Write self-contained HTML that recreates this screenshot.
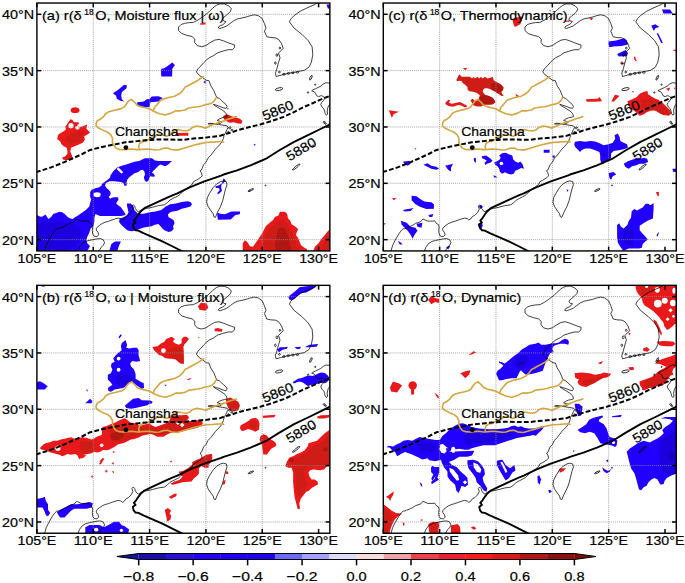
<!DOCTYPE html><html><head><meta charset="utf-8"><style>
html,body{margin:0;padding:0;background:#fff;width:685px;height:583px;overflow:hidden}
svg{display:block}
text{font-family:"Liberation Sans",sans-serif;fill:#000;stroke:#000;stroke-width:0.2px}
.gl{stroke:#8e8e8e;stroke-width:0.8;stroke-dasharray:1 1.05}
.fr{fill:none;stroke:#000;stroke-width:1.4}
.tk{stroke:#000;stroke-width:1.5}
.tl{font-size:13.4px}
.sp{font-size:9.0px}
.tt{font-size:13.4px}
.cl{fill:none;stroke:#000;stroke-width:0.75;stroke-linejoin:round}
.gc{fill:none;stroke:#d2a641;stroke-width:1.6;stroke-linejoin:round;stroke-linecap:round}
.dl{fill:none;stroke:#000;stroke-width:2.0;stroke-dasharray:4.8 2.2}
.sl{fill:none;stroke:#000;stroke-width:1.9;stroke-linejoin:round}
</style></head><body>
<svg width="685" height="583" viewBox="0 0 685 583">
<defs><pattern id="latb" patternUnits="userSpaceOnUse" width="7" height="7" patternTransform="rotate(-45)"><rect width="7" height="7" fill="#2200ff"/><rect x="0" y="0" width="3.2" height="7" fill="#fff"/></pattern><pattern id="latr" patternUnits="userSpaceOnUse" width="8" height="8" patternTransform="rotate(45)"><rect width="8" height="8" fill="#dd1a16"/><circle cx="4" cy="4" r="2.1" fill="#fff"/></pattern><g id="base"><path d="M7.6,248.5 L9.3,242.3 L12.0,237.0 L15.5,230.9 L18.1,227.4 L19.9,225.7 L21.6,225.7 L23.4,224.8 L26.0,223.9 L27.7,223.0 L29.5,222.2 L32.1,220.4 L34.7,219.5 L37.4,218.6 L39.6,216.0 L41.7,216.9 L44.4,218.1 L47.0,218.1 L49.6,218.1 L51.4,217.8 L52.3,219.2 L53.1,220.4 L54.9,221.3 L55.8,223.9 L55.4,227.4 L55.8,230.9 L57.2,233.2 L60.1,233.5 L61.9,231.8 L61.0,229.2 L59.6,227.4 L59.3,225.7 L60.7,223.9 L62.8,222.2 L65.4,220.4 L68.9,219.0 L71.5,218.3 L75.0,217.0 L78.5,215.8 L81.2,215.1 L83.8,215.5 L85.5,217.0 L87.3,216.0 L89.1,213.5 L91.5,212.3 L94.2,209.6 L96.0,206.2 L95.0,203.2 L96.3,201.7 L97.8,203.2 L98.4,205.5 L99.8,207.6 L101.6,208.8 L103.2,207.6 L105.3,206.4 L109.8,205.4 L115.7,204.2 L121.5,202.6 L127.4,201.8 L130.3,199.8 L133.2,196.9 L136.1,195.4 L139.0,194.0 L141.9,192.4 L143.4,191.1 L147.8,186.7 L152.2,183.8 L155.1,181.6 L156.6,178.6 L159.5,177.2 L163.9,174.3 L165.3,172.8 L164.6,169.9 L163.2,167.7 L164.6,166.9 L166.8,161.5 L169.0,159.3 L171.2,155.0 L174.1,152.0 L176.3,149.1 L178.5,146.2 L180.6,144.0 L182.8,141.8 L185.0,138.9 L186.5,135.3 L187.2,132.3 L188.7,129.4 L190.1,126.5 L191.3,124.3 L190.1,122.8 L185.8,122.1 L181.4,121.4 L177.0,120.7 L173.3,120.2 L171.2,120.8 L174.2,121.0 L178.6,120.9 L183.0,120.5 L185.2,119.0 L180.3,117.4 L182.5,115.9 L185.2,114.8 L187.8,114.2 L190.2,113.6 L189.8,111.6 L188.2,109.2 L186.0,107.5 L183.4,105.9 L180.8,104.3 L178.2,102.8 L176.4,101.3 L179.5,102.2 L183.0,103.4 L186.5,104.8 L189.1,105.4 L190.2,103.7 L189.1,101.5 L186.9,99.6 L184.7,97.6 L182.5,95.5 L179.9,94.5 L179.0,92.6 L176.8,87.3 L173.9,82.7 L172.0,77.6 L169.7,77.5 L165.3,74.3 L161.7,71.7 L159.5,68.8 L161.0,65.9 L163.9,63.0 L166.8,59.7 L169.7,56.8 L172.6,54.6 L177.0,52.4 L180.6,49.8 L185.8,48.1 L191.6,46.6 L195.5,46.7 L197.5,44.6 L197.8,42.0 L194.7,41.0 L190.9,39.6 L186.5,37.8 L182.1,36.4 L177.7,37.1 L173.3,39.6 L169.0,42.5 L164.6,43.7 L160.2,42.5 L157.7,39.3 L158.0,36.1 L155.1,33.5 L150.0,32.3 L144.9,30.5 L141.7,27.6 L141.7,24.0 L144.1,21.5 L147.8,20.3 L152.2,19.6 L156.6,19.3 L160.9,17.1 L165.3,14.2 L169.7,10.8 L172.5,8.4 L176.0,4.9 L179.5,2.2 L183.0,0.9 L187.4,0.9 L191.7,2.7 L194.4,5.7 L193.5,8.4 L190.9,11.0 L188.2,13.2 L186.5,14.5 L185.6,16.2 L186.9,18.0 L189.1,18.4 L187.8,20.2 L185.6,21.8 L182.5,23.1 L181.4,24.8 L183.0,25.5 L186.5,24.3 L190.0,22.8 L193.5,20.2 L197.0,17.6 L200.5,15.9 L204.9,15.0 L209.3,14.0 L213.5,12.6 L217.4,11.8 L221.3,12.6 L225.2,15.4 L227.5,20.4 L229.1,25.1 L227.5,28.2 L229.9,33.7 L233.8,34.5 L238.5,34.8 L241.6,36.3 L244.7,40.7 L246.3,45.4 L241.6,50.1 L243.1,54.8 L241.6,59.5 L240.0,65.7 L238.5,70.4 L239.2,73.5 L244.7,72.0 L250.9,70.4 L257.2,69.2 L263.4,68.1 L267.3,67.3 L272.0,64.2 L274.4,59.5 L275.9,51.7 L275.2,43.8 L271.3,37.6 L265.0,31.3 L257.2,25.1 L252.5,18.8 L254.1,15.7 L257.2,12.6 L263.4,8.2 L269.7,5.1 L277.5,1.7 L280.6,-0.5" class="cl"/><path d="M40.9,248.5 L42.6,244.1 L45.2,240.6 L48.8,238.4 L52.3,237.4 L55.8,236.7 L60.1,235.8 L63.6,235.6 L66.3,236.7 L67.7,239.7 L66.3,242.3 L64.5,244.1 L62.8,246.7 L61.9,248.5" class="cl"/><path d="M186.5,177.9 L189.4,178.6 L190.1,181.6 L188.7,185.9 L187.2,191.8 L185.8,197.6 L183.6,203.5 L180.6,209.3 L178.5,214.4 L177.0,213.7 L176.3,210.8 L174.1,207.8 L171.2,203.5 L169.7,199.1 L170.4,194.7 L172.6,190.3 L176.3,184.5 L179.9,180.8 L183.6,178.6 L186.5,177.9" class="cl"/><path d="M293.5,80.1 L289.0,79.7 L286.4,81.0 L283.9,83.1 L281.3,84.4 L278.7,85.7 L275.7,87.0 L274.8,87.8 L277.4,88.7 L278.7,90.4 L279.6,92.6 L281.7,93.6 L284.3,92.6 L286.4,93.4 L287.7,95.1 L286.9,97.3 L284.7,99.4 L283.9,101.6 L285.1,103.9 L286.9,105.8 L287.7,108.0 L288.3,110.6 L289.4,112.1 L290.7,111.2 L290.3,108.0 L290.7,105.4 L291.5,103.0 L293.5,100.5" class="cl"/><ellipse cx="242.2" cy="86.1" rx="3.8" ry="1.3" transform="rotate(-12 242.2 86.1)" class="cl"/><ellipse cx="274.0" cy="74.7" rx="0.8" ry="2.6" transform="rotate(25 274.0 74.7)" class="cl"/><ellipse cx="259.3" cy="164.0" rx="4.6" ry="0.8" transform="rotate(-40 259.3 164.0)" class="cl"/><ellipse cx="214.0" cy="187.0" rx="3.0" ry="0.7" transform="rotate(-25 214.0 187.0)" class="cl"/><ellipse cx="276.0" cy="143.0" rx="1.2" ry="0.8" transform="rotate(-30 276.0 143.0)" class="cl"/><ellipse cx="287.3" cy="119.1" rx="1.0" ry="0.8" transform="rotate(0 287.3 119.1)" class="cl"/><ellipse cx="228.7" cy="182.4" rx="0.5" ry="0.5" transform="rotate(0 228.7 182.4)" class="cl"/><ellipse cx="247.0" cy="71.2" rx="1.4" ry="0.9" transform="rotate(0 247.0 71.2)" class="cl"/><ellipse cx="251.5" cy="70.4" rx="1.4" ry="0.9" transform="rotate(0 251.5 70.4)" class="cl"/><ellipse cx="256.0" cy="69.8" rx="1.3" ry="0.9" transform="rotate(0 256.0 69.8)" class="cl"/><ellipse cx="260.5" cy="69.4" rx="1.2" ry="0.8" transform="rotate(0 260.5 69.4)" class="cl"/><ellipse cx="242.5" cy="69.0" rx="1.0" ry="0.8" transform="rotate(0 242.5 69.0)" class="cl"/><ellipse cx="240.0" cy="52.0" rx="0.9" ry="1.4" transform="rotate(0 240.0 52.0)" class="cl"/><ellipse cx="238.5" cy="60.0" rx="0.8" ry="1.2" transform="rotate(0 238.5 60.0)" class="cl"/><ellipse cx="243.0" cy="45.0" rx="0.8" ry="1.0" transform="rotate(0 243.0 45.0)" class="cl"/><ellipse cx="193.0" cy="124.8" rx="1.2" ry="0.8" transform="rotate(-20 193.0 124.8)" class="cl"/><ellipse cx="195.0" cy="127.0" rx="1.0" ry="0.7" transform="rotate(-20 195.0 127.0)" class="cl"/><ellipse cx="191.5" cy="129.0" rx="0.8" ry="0.6" transform="rotate(0 191.5 129.0)" class="cl"/><ellipse cx="278.3" cy="81.6" rx="0.6" ry="0.6" transform="rotate(0 278.3 81.6)" class="cl"/><ellipse cx="271.1" cy="89.4" rx="0.8" ry="0.5" transform="rotate(-30 271.1 89.4)" class="cl"/><ellipse cx="288.5" cy="120.5" rx="1.0" ry="0.6" transform="rotate(20 288.5 120.5)" class="cl"/><path d="M94.8,96.6 L91.9,97.8 L89.6,100.7 L87.8,103.6 L84.9,105.4 L80.2,106.6 L75.6,107.7 L71.5,108.9 L68.6,110.7 L66.8,113.6 L63.9,115.9 L60.4,117.7 L59.2,120.6 L59.2,122.9 L62.1,125.3 L66.8,127.6 L70.9,129.3 L73.8,131.7 L75.6,135.2 L75.6,139.3 L76.7,142.2 L79.1,145.1 L82.0,146.3 L86.1,146.6 L90.8,146.3 L95.4,145.9 L100.1,146.6 L104.8,146.3 L109.4,145.9 L114.1,146.3 L118.8,146.9 L122.5,146.7 L126.5,145.3 L130.7,144.9 L134.2,146.5 L140.1,147.1 L145.9,145.5 L151.7,143.8 L157.6,142.0 L163.4,140.6 L169.3,139.4 L175.1,139.1 L180.9,138.7 L185.6,138.4 L186.8,139.1" class="gc"/><path d="M102.4,146.3 L101.8,143.4 L102.7,140.4 L105.4,138.7 L109.2,138.1 L112.0,136.4 L114.3,134.2 L117.2,133.6 L122.5,131.0 L126.0,131.9 L129.5,133.2 L133.0,131.9 L136.5,128.4 L140.9,126.6 L145.2,127.5 L149.6,128.0 L152.5,127.0 L155.5,124.4 L159.8,122.9 L164.2,123.7 L168.6,125.1 L173.0,122.9 L177.4,121.1 L181.7,119.6 L187.6,117.8 L192.0,116.0 L199.5,113.6" class="gc"/><path d="M94.8,96.6 L97.8,99.2 L100.1,101.9 L103.6,103.6 L108.3,104.8 L113.0,106.0 L116.7,108.2 L122.5,110.7 L128.4,111.9 L134.2,110.1 L138.9,107.8 L143.6,107.8 L148.2,107.0 L151.7,104.9 L156.4,104.3 L161.1,103.7 L164.6,102.9 L168.1,101.7 L171.6,101.1 L175.1,99.9 L177.4,97.8 L179.2,94.9" class="gc"/><path d="M116.4,107.6 L117.5,104.5 L120.2,101.4 L123.7,97.3 L128.4,95.5 L133.0,94.3 L137.7,93.2 L142.4,90.8 L145.9,87.6 L148.2,84.1 L151.2,82.7 L154.1,80.9 L157.6,79.2 L161.7,76.8 L164.6,74.7 L166.7,73.3" class="gc"/><path d="M-1.0,168.6 L0.2,168.8 L14.2,164.4 L27.4,159.1 L36.1,155.2 L44.9,151.2 L53.4,146.9 L65.1,143.9 L76.7,141.6 L88.4,139.3 L100.1,138.1 L111.8,136.9 L121.7,136.4 L146.7,136.8 L154.0,135.7 L161.3,135.2 L168.6,134.6 L175.9,133.7 L183.2,132.8 L188.4,130.9 L194.1,129.6 L200.1,127.3 L211.7,124.3 L223.4,121.4 L235.1,117.9 L246.8,113.8 L256.0,109.6 L266.1,104.4 L277.1,99.6 L285.4,95.7 L294.0,92.6" class="dl"/><path d="M294.0,120.6 L291.6,122.0 L284.1,125.7 L270.6,132.4 L257.2,138.8 L242.1,147.5 L228.7,155.9 L213.6,162.3 L200.1,167.3 L186.7,171.5 L184.3,172.6 L166.8,178.6 L152.2,184.5 L140.5,190.3 L135.4,192.4 L125.4,196.8 L115.7,201.4 L107.5,205.2 L103.8,208.4 L101.9,211.0 L99.2,215.0 L97.0,217.6 L98.6,219.6 L96.0,221.5 L96.6,224.8 L98.6,227.2 L101.5,227.6 L106.5,230.1 L115.7,234.0 L124.9,238.0 L135.4,243.2 L145.9,248.6" class="sl"/><circle cx="89.0" cy="144.5" r="2.4" fill="#000"/><text x="78.0" y="132.8" class="tl" textLength="63.51" lengthAdjust="spacingAndGlyphs">Changsha</text><text class="tl" text-anchor="middle" transform="translate(240.9,107.4) rotate(-22)" y="4.5" textLength="32.45" lengthAdjust="spacingAndGlyphs">5860</text><text class="tl" text-anchor="middle" transform="translate(264.3,146.3) rotate(-31)" y="4.5" textLength="32.45" lengthAdjust="spacingAndGlyphs">5880</text></g></defs>
<g transform="translate(36.90,3.03)">
<clipPath id="cpa"><rect x="0" y="0" width="292.97" height="247.90"/></clipPath>
<g clip-path="url(#cpa)">
<path d="M33.4,116.3 L35.6,117.0 L37.1,119.2 L41.4,119.2 L42.2,120.7 L40.0,122.1 L42.9,124.3 L47.3,122.8 L50.2,121.4 L49.5,125.8 L53.1,129.4 L50.2,131.6 L47.3,133.1 L48.0,136.7 L45.8,139.6 L41.4,141.8 L37.8,143.3 L34.1,144.7 L33.4,148.4 L34.9,152.0 L35.6,155.0 L32.7,156.4 L29.8,157.2 L26.1,156.4 L25.4,154.2 L28.3,153.5 L30.5,150.6 L30.5,147.7 L29.8,144.7 L26.8,143.3 L24.6,141.1 L23.2,138.2 L20.3,136.0 L21.0,132.3 L23.2,130.1 L26.1,128.7 L29.0,126.5 L28.3,123.6 L30.5,120.7 L32.0,118.5Z" fill="#e8191a"/><path d="M29.8,133.1 L35.6,130.1 L41.4,127.2 L45.8,128.7 L44.4,134.5 L41.4,138.9 L35.6,140.4 L30.5,138.9 L29.0,136.0Z" fill="#d01c16"/><path d="M26.5,156.0 L29.5,152.5 L33.5,152.0 L35.3,154.8 L30.0,157.0Z" fill="#d01c16"/><ellipse cx="34.1" cy="122.6" rx="2.6" ry="2.6" fill="#ffffff"/><ellipse cx="40.5" cy="124.8" rx="2.2" ry="1.8" fill="#ffffff"/><ellipse cx="38.2" cy="107.1" rx="4.4" ry="2.9" fill="#e8191a"/><path d="M124.4,65.7 L127.3,65.2 L131.0,62.7 L135.4,59.4 L138.0,62.0 L135.4,65.7 L135.4,69.3 L135.1,73.4 L124.4,73.4 L124.1,69.3Z" fill="#2200ff"/><path d="M76.2,90.0 L79.9,87.6 L82.8,85.4 L87.2,81.7 L90.1,82.4 L89.4,85.4 L85.0,89.0 L84.3,92.7 L85.0,96.3 L87.2,98.5 L83.5,97.8 L79.9,95.6 L79.2,92.7 L77.0,91.2Z" fill="#2200ff"/><path d="M100.3,99.2 L106.9,98.5 L109.8,96.3 L112.7,95.9 L114.9,93.4 L121.5,93.1 L125.9,94.9 L123.0,97.0 L122.2,98.5 L113.5,99.2 L112.7,104.3 L106.9,104.0 L101.8,103.6 L100.3,101.4Z" fill="#2200ff"/><path d="M-1.0,212.2 L0.6,212.2 L3.5,213.7 L5.7,213.4 L8.6,211.5 L10.0,213.7 L11.5,215.9 L13.7,214.4 L16.6,210.8 L19.5,210.0 L22.5,208.6 L25.4,209.3 L28.3,211.5 L30.5,213.7 L32.7,215.1 L35.6,215.9 L37.8,214.4 L41.4,212.2 L45.8,209.3 L49.5,206.4 L52.4,203.5 L53.3,199.4 L54.3,196.6 L53.3,193.8 L53.3,189.0 L54.8,186.7 L58.5,185.3 L62.3,184.3 L64.7,182.4 L65.1,180.6 L68.0,178.7 L70.8,176.8 L73.2,174.4 L73.6,172.1 L76.6,167.9 L80.1,164.4 L84.8,162.7 L89.5,161.5 L93.0,160.3 L97.6,158.6 L102.3,158.0 L105.8,156.2 L108.1,155.1 L115.1,155.1 L118.1,157.4 L122.1,158.0 L135.0,158.0 L132.7,160.3 L130.3,162.1 L128.0,163.2 L125.7,162.1 L123.3,161.5 L121.0,163.2 L118.6,165.6 L116.3,167.9 L115.1,169.7 L116.9,170.8 L118.1,173.2 L116.3,173.8 L113.4,173.2 L112.2,175.5 L111.6,177.8 L109.3,179.0 L107.5,176.7 L107.0,174.3 L108.1,171.4 L107.5,168.5 L105.8,166.7 L103.5,167.3 L101.1,169.1 L97.6,170.3 L95.3,172.0 L92.4,174.3 L90.6,176.1 L89.7,179.0 L89.7,182.4 L87.8,182.9 L86.8,180.6 L85.0,179.1 L82.1,178.7 L77.4,178.2 L72.7,178.2 L69.4,179.6 L68.0,182.4 L69.9,185.3 L72.2,187.2 L73.6,189.0 L73.6,191.9 L71.7,193.8 L73.2,195.6 L75.0,194.7 L76.9,194.2 L81.2,194.2 L81.6,196.6 L80.2,198.5 L79.3,200.4 L81.2,202.3 L84.0,204.1 L85.9,207.0 L87.8,209.8 L88.7,212.0 L84.0,213.0 L72.0,213.0 L63.0,213.0 L58.5,211.0 L57.5,215.0 L57.5,218.0 L56.8,222.4 L53.8,225.4 L52.4,229.7 L50.2,234.1 L49.5,237.0 L50.2,240.0 L53.1,242.9 L51.7,245.8 L49.5,249.0 L-1.0,249.0Z" fill="#2200ff"/><path d="M90.1,200.4 L93.8,200.4 L96.7,203.4 L97.4,207.0 L101.1,210.7 L106.9,210.7 L112.7,209.2 L118.6,208.5 L124.4,207.0 L128.8,203.4 L133.2,201.2 L139.0,200.4 L144.9,199.0 L150.7,198.2 L153.6,199.0 L155.1,201.2 L153.6,203.4 L149.2,204.8 L144.9,205.6 L140.5,207.7 L136.1,208.5 L133.2,209.2 L131.0,211.4 L131.7,214.3 L134.6,215.8 L136.8,217.2 L137.6,220.1 L136.1,223.1 L136.8,226.0 L134.6,228.2 L131.7,228.9 L128.1,227.4 L125.9,226.0 L123.7,223.1 L121.5,220.9 L117.8,221.6 L114.9,223.1 L111.3,223.8 L106.9,224.5 L102.5,226.0 L98.9,227.4 L94.5,228.2 L90.8,227.4 L87.2,224.5 L84.3,221.6 L82.1,218.7 L82.8,215.8 L86.5,214.3 L90.1,212.1 L91.6,209.2 L90.8,205.6 L90.1,202.6Z" fill="#2200ff"/><path d="M72.0,249.0 L74.5,241.0 L78.0,238.5 L84.0,238.5 L82.0,243.0 L80.0,249.0Z" fill="#2200ff"/><path d="M-1.0,222.0 L10.0,218.0 L25.0,219.0 L38.0,222.0 L45.0,228.0 L42.0,238.0 L35.0,245.0 L20.0,249.0 L-1.0,249.0Z" fill="#1c00dd"/><ellipse cx="60.2" cy="191.7" rx="3.6" ry="2.4" fill="#ffffff"/><rect x="79.5" y="166.3" width="7.0" height="2.4" fill="#ffffff" transform="rotate(45 83.0 167.5)"/><path d="M205.8,249.0 L205.8,240.1 L208.0,237.2 L210.2,238.7 L213.1,243.1 L216.0,243.8 L219.6,238.7 L222.6,234.3 L225.5,229.9 L227.7,225.5 L229.1,222.6 L232.1,220.4 L236.4,216.8 L237.9,213.9 L241.5,212.4 L243.0,208.8 L248.1,208.8 L250.3,211.0 L251.0,215.3 L253.2,217.5 L254.7,221.2 L258.3,223.4 L261.3,226.3 L259.8,229.2 L259.1,232.1 L261.3,235.0 L262.7,238.7 L264.2,242.3 L267.1,244.5 L270.0,246.0 L270.7,249.0Z" fill="#e8191a"/><path d="M275.9,249.0 L278.0,243.8 L281.7,240.1 L284.6,235.8 L288.3,231.4 L291.2,227.7 L294.1,226.3 L294.1,249.0Z" fill="#e8191a"/><path d="M229.1,229.9 L233.5,224.1 L239.4,219.7 L245.2,216.8 L249.6,219.7 L252.5,225.5 L255.4,229.9 L258.3,235.8 L259.8,241.6 L262.7,249.0 L227.7,249.0 L226.2,242.1Z" fill="#d01c16"/><path d="M284.0,249.0 L286.0,240.0 L290.0,234.0 L294.0,231.0 L294.0,249.0Z" fill="#d01c16"/><path d="M240.8,227.0 L243.7,224.1 L247.4,224.8 L249.6,228.5 L251.8,234.3 L252.5,240.1 L255.4,249.0 L239.4,249.0 L237.9,242.1 L239.4,234.8Z" fill="#b01712"/><path d="M178.6,183.2 L182.2,182.1 L185.1,180.3 L186.2,176.8 L186.8,175.1 L188.9,177.8 L186.8,179.7 L184.5,181.7 L184.3,184.4 L185.1,187.6 L182.7,190.3 L180.7,191.2 L180.4,190.0 L182.4,187.6 L182.7,185.6 L181.0,185.0 L178.9,185.0Z" fill="#2200ff"/><path d="M180.4,209.5 L183.3,210.7 L188.0,211.3 L192.7,209.3 L194.4,208.4 L203.2,208.4 L202.9,211.3 L198.5,211.9 L196.2,214.2 L193.8,216.5 L181.0,216.8 L180.4,213.0Z" fill="#2200ff"/><path d="M210.8,188.4 L213.5,187.0 L213.3,188.8Z" fill="#2200ff"/><path d="M216.5,141.8 L218.8,140.6 L218.0,142.6Z" fill="#2200ff"/><path d="M163.1,20.5 L168.7,19.3 L168.5,21.5 L163.5,21.7Z" fill="#e8191a"/><path d="M166.5,79.0 L168.7,77.3 L168.7,80.6Z" fill="#2200ff"/><path d="M186.2,113.0 L189.5,111.1 L192.7,112.2 L195.9,113.8 L199.9,114.6 L203.1,115.8 L205.5,118.0 L204.5,120.8 L201.0,120.5 L197.0,119.3 L193.0,119.8 L189.5,118.2 L187.0,116.2Z" fill="#e8191a"/><path d="M188.0,112.5 L192.0,113.0 L196.0,115.0 L195.0,118.5 L190.0,117.5Z" fill="#d01c16"/><path d="M189.8,105.0 L192.2,105.6 L191.0,106.8Z" fill="#e8191a"/><path d="M289.6,1.4 L294.0,1.4 L294.0,5.9 L291.0,5.5Z" fill="#2200ff"/><path d="M139.7,130.0 L151.4,129.6 L151.4,132.6 L139.7,132.8Z" fill="#e8191a"/>
<line x1="56.34" y1="0" x2="56.34" y2="247.90" class="gl"/>
<line x1="112.68" y1="0" x2="112.68" y2="247.90" class="gl"/>
<line x1="169.02" y1="0" x2="169.02" y2="247.90" class="gl"/>
<line x1="225.36" y1="0" x2="225.36" y2="247.90" class="gl"/>
<line x1="0" y1="236.63" x2="292.97" y2="236.63" class="gl"/>
<line x1="0" y1="180.29" x2="292.97" y2="180.29" class="gl"/>
<line x1="0" y1="123.95" x2="292.97" y2="123.95" class="gl"/>
<line x1="0" y1="67.61" x2="292.97" y2="67.61" class="gl"/>
<line x1="0" y1="11.27" x2="292.97" y2="11.27" class="gl"/>
<use href="#base"/>
</g>
<rect x="0" y="0" width="292.97" height="247.90" class="fr"/>
<line x1="0.00" y1="247.90" x2="0.00" y2="243.60" class="tk"/>
<line x1="0.00" y1="0" x2="0.00" y2="4.3" class="tk"/>
<line x1="56.34" y1="247.90" x2="56.34" y2="243.60" class="tk"/>
<line x1="56.34" y1="0" x2="56.34" y2="4.3" class="tk"/>
<line x1="112.68" y1="247.90" x2="112.68" y2="243.60" class="tk"/>
<line x1="112.68" y1="0" x2="112.68" y2="4.3" class="tk"/>
<line x1="169.02" y1="247.90" x2="169.02" y2="243.60" class="tk"/>
<line x1="169.02" y1="0" x2="169.02" y2="4.3" class="tk"/>
<line x1="225.36" y1="247.90" x2="225.36" y2="243.60" class="tk"/>
<line x1="225.36" y1="0" x2="225.36" y2="4.3" class="tk"/>
<line x1="281.70" y1="247.90" x2="281.70" y2="243.60" class="tk"/>
<line x1="281.70" y1="0" x2="281.70" y2="4.3" class="tk"/>
<line x1="0" y1="236.63" x2="4.3" y2="236.63" class="tk"/>
<line x1="292.97" y1="236.63" x2="288.67" y2="236.63" class="tk"/>
<line x1="0" y1="180.29" x2="4.3" y2="180.29" class="tk"/>
<line x1="292.97" y1="180.29" x2="288.67" y2="180.29" class="tk"/>
<line x1="0" y1="123.95" x2="4.3" y2="123.95" class="tk"/>
<line x1="292.97" y1="123.95" x2="288.67" y2="123.95" class="tk"/>
<line x1="0" y1="67.61" x2="4.3" y2="67.61" class="tk"/>
<line x1="292.97" y1="67.61" x2="288.67" y2="67.61" class="tk"/>
<line x1="0" y1="11.27" x2="4.3" y2="11.27" class="tk"/>
<line x1="292.97" y1="11.27" x2="288.67" y2="11.27" class="tk"/>
<text x="0.00" y="259.80" class="tl" text-anchor="middle" textLength="38.77" lengthAdjust="spacingAndGlyphs">105°E</text>
<text x="56.34" y="259.80" class="tl" text-anchor="middle" textLength="38.77" lengthAdjust="spacingAndGlyphs">110°E</text>
<text x="112.68" y="259.80" class="tl" text-anchor="middle" textLength="38.77" lengthAdjust="spacingAndGlyphs">115°E</text>
<text x="169.02" y="259.80" class="tl" text-anchor="middle" textLength="38.77" lengthAdjust="spacingAndGlyphs">120°E</text>
<text x="225.36" y="259.80" class="tl" text-anchor="middle" textLength="38.77" lengthAdjust="spacingAndGlyphs">125°E</text>
<text x="281.70" y="259.80" class="tl" text-anchor="middle" textLength="38.77" lengthAdjust="spacingAndGlyphs">130°E</text>
<text x="-2.7" y="241.63" class="tl" text-anchor="end" textLength="32.14" lengthAdjust="spacingAndGlyphs">20°N</text>
<text x="-2.7" y="185.29" class="tl" text-anchor="end" textLength="32.14" lengthAdjust="spacingAndGlyphs">25°N</text>
<text x="-2.7" y="128.95" class="tl" text-anchor="end" textLength="32.14" lengthAdjust="spacingAndGlyphs">30°N</text>
<text x="-2.7" y="72.61" class="tl" text-anchor="end" textLength="32.14" lengthAdjust="spacingAndGlyphs">35°N</text>
<text x="-2.7" y="16.27" class="tl" text-anchor="end" textLength="32.14" lengthAdjust="spacingAndGlyphs">40°N</text>
<text x="5.0" y="16.6" class="tt" textLength="39.83" lengthAdjust="spacingAndGlyphs">(a) r(δ</text>
<text x="47.43" y="11.7" class="sp" textLength="9.4" lengthAdjust="spacingAndGlyphs">18</text>
<text x="58.33" y="16.6" class="tt" textLength="129.06" lengthAdjust="spacingAndGlyphs">O, Moisture flux | ω)</text>
</g>
<g transform="translate(36.90,285.33)">
<clipPath id="cpb"><rect x="0" y="0" width="292.97" height="247.90"/></clipPath>
<g clip-path="url(#cpb)">
<path d="M2.8,162.8 L6.4,159.2 L9.3,157.7 L13.0,157.0 L16.6,155.5 L20.3,155.5 L23.9,154.1 L27.6,153.4 L30.5,152.6 L34.1,151.9 L37.8,153.4 L41.4,152.6 L45.8,151.9 L50.2,152.6 L54.6,154.1 L57.5,152.9 L60.4,151.2 L64.8,149.7 L65.5,141.7 L69.2,141.0 L73.6,138.8 L77.9,137.3 L82.3,135.1 L85.2,133.6 L88.2,132.9 L91.1,135.1 L94.0,137.3 L99.1,138.0 L103.1,140.6 L107.2,139.1 L112.3,138.1 L115.4,140.1 L118.4,141.6 L121.5,140.6 L125.6,139.1 L129.7,137.6 L132.7,135.0 L133.8,131.4 L137.8,129.9 L144.0,129.9 L150.1,129.4 L152.1,131.9 L151.1,134.0 L149.1,136.0 L152.1,136.0 L157.3,135.0 L162.4,135.0 L165.4,136.0 L165.9,138.1 L164.4,140.1 L162.4,141.6 L159.3,142.7 L156.2,143.7 L152.1,144.2 L148.1,145.2 L144.0,146.7 L138.9,147.3 L133.8,147.3 L129.7,149.3 L126.6,151.3 L120.5,151.3 L116.4,149.3 L113.3,148.3 L109.2,149.3 L105.1,150.3 L101.9,152.1 L97.5,153.6 L94.0,154.1 L89.6,156.3 L86.7,157.7 L83.8,158.5 L80.9,159.2 L77.9,161.4 L75.0,162.8 L72.1,164.3 L69.2,165.0 L66.3,164.6 L63.3,166.5 L60.4,167.2 L57.5,166.5 L54.6,168.0 L50.9,168.7 L47.3,169.4 L44.4,172.3 L42.2,173.8 L40.7,170.1 L38.5,168.7 L34.1,169.4 L30.5,168.7 L27.6,170.1 L25.4,170.9 L22.5,169.4 L19.5,168.7 L16.6,168.0 L13.7,167.2 L10.8,165.8 L7.9,165.0 L5.0,164.3Z" fill="#e8191a"/><path d="M43.0,156.0 L50.0,155.5 L57.0,157.0 L57.0,166.5 L50.0,168.0 L44.0,167.0Z" fill="#d01c16"/><path d="M72.0,146.0 L80.0,142.0 L88.0,140.0 L95.0,141.0 L100.0,142.0 L112.0,141.0 L120.0,143.0 L128.0,140.5 L134.0,136.0 L139.0,132.0 L147.0,131.5 L150.0,133.0 L147.0,137.0 L155.0,137.5 L162.0,137.0 L160.0,141.5 L150.0,144.5 L137.0,146.5 L125.0,149.5 L118.0,148.5 L105.0,149.5 L97.0,151.5 L90.0,155.0 L82.0,157.0 L75.0,157.0Z" fill="#d01c16"/><path d="M74.0,148.5 L80.0,146.5 L86.0,147.0 L86.7,152.0 L80.0,155.0 L74.0,154.0Z" fill="#b01712"/><ellipse cx="21.0" cy="162.8" rx="2.6" ry="2.6" fill="#ffffff"/><ellipse cx="64.8" cy="160.0" rx="1.8" ry="1.8" fill="#ffffff"/><rect x="139.7" y="136.7" width="2.5" height="2.5" fill="#ffffff" transform="rotate(45 140.9 137.9)"/><rect x="143.7" y="138.1" width="3.2" height="3.2" fill="#ffffff" transform="rotate(45 145.3 139.7)"/><path d="M61.9,179.0 L65.0,174.0 L67.7,173.0 L64.0,179.0Z" fill="#e8191a"/><path d="M76.0,166.0 L77.5,166.0 L77.5,167.5 L76.0,167.5Z" fill="#e8191a"/><path d="M84.8,57.8 L88.6,54.7 L90.2,59.4 L89.4,62.4 L92.5,63.2 L96.3,62.4 L100.2,62.4 L101.7,64.8 L101.7,70.2 L103.3,75.6 L99.4,76.3 L95.6,75.6 L93.3,77.9 L94.0,81.0 L97.1,84.1 L98.7,88.7 L98.7,93.3 L102.5,95.6 L106.4,97.9 L107.1,102.6 L104.8,103.3 L101.0,101.0 L96.3,97.9 L94.0,96.4 L90.9,99.5 L86.3,102.6 L81.7,103.3 L77.8,104.1 L74.0,106.4 L71.6,105.7 L70.9,102.6 L75.5,99.5 L73.2,96.4 L70.9,94.1 L70.9,89.5 L74.0,87.9 L75.5,84.1 L74.0,81.0 L74.7,77.9 L77.8,76.3 L76.3,73.2 L78.6,70.2 L81.7,67.1 L84.8,64.8 L84.0,60.9Z" fill="#2200ff"/><path d="M78.6,90.2 L86.0,88.0 L94.0,90.0 L94.0,97.0 L88.0,99.5 L80.0,99.0Z" fill="#1c00dd"/><ellipse cx="81.7" cy="73.2" rx="1.9" ry="1.9" fill="#ffffff"/><ellipse cx="81.7" cy="84.4" rx="1.9" ry="1.9" fill="#ffffff"/><path d="M81.7,51.6 L84.0,48.6 L84.8,50.1 L82.5,53.2Z" fill="#2200ff"/><path d="M87.9,120.3 L92.5,116.5 L96.3,113.4 L101.9,112.7 L104.8,114.9 L113.5,115.2 L115.7,116.3 L115.0,118.1 L112.1,118.5 L110.6,120.0 L104.8,121.1 L98.7,122.6 L94.0,123.4 L89.4,122.6Z" fill="#2200ff"/><path d="M48.5,118.0 L53.1,113.4 L55.4,115.7 L54.7,118.0Z" fill="#2200ff"/><path d="M49.0,104.1 L50.8,104.5 L50.5,106.4Z" fill="#2200ff"/><path d="M127.2,99.5 L129.5,99.5 L129.0,101.0Z" fill="#2200ff"/><path d="M103.1,98.0 L106.7,97.4 L106.7,102.6 L104.5,103.0Z" fill="#2200ff"/><path d="M115.5,61.7 L120.6,60.9 L124.3,58.0 L127.2,56.6 L129.4,53.6 L134.5,51.5 L138.1,53.6 L135.9,55.8 L138.1,58.0 L141.8,59.5 L144.7,58.0 L144.7,53.6 L146.9,51.5 L149.8,51.5 L152.0,53.6 L149.8,56.6 L147.6,58.8 L146.5,61.7 L146.9,68.2 L146.9,78.5 L144.0,78.5 L141.1,76.3 L138.9,74.1 L135.2,73.3 L132.3,73.3 L127.9,72.6 L125.0,70.4 L122.1,69.7 L119.2,66.8 L117.0,64.6Z" fill="#e8191a"/><path d="M130.8,63.9 L136.7,62.4 L141.8,61.0 L146.2,62.4 L146.9,78.5 L142.5,77.0 L138.1,73.4 L132.3,71.2Z" fill="#d01c16"/><ellipse cx="126.5" cy="65.3" rx="2.4" ry="2.4" fill="#ffffff"/><path d="M160.8,51.5 L163.0,52.5 L161.5,53.0Z" fill="#e8191a"/><path d="M177.5,43.5 L181.0,42.7 L185.6,44.0 L185.0,46.3 L178.0,46.0Z" fill="#e8191a"/><path d="M149.8,94.5 L153.0,93.0 L154.9,93.2 L151.5,94.8Z" fill="#e8191a"/><path d="M161.1,21.0 L164.1,17.5 L169.9,18.1 L171.4,22.5 L168.4,25.4 L162.6,24.5Z" fill="#e8191a"/><path d="M189.2,113.6 L193.5,112.2 L197.9,114.4 L201.6,116.6 L203.0,120.2 L201.6,124.6 L197.9,126.1 L193.5,125.3 L191.3,122.4 L189.2,118.0Z" fill="#d01c16"/><path d="M203.8,139.9 L208.1,137.7 L211.8,135.5 L214.0,133.4 L218.4,132.3 L221.3,134.1 L222.7,138.5 L222.0,144.3 L218.4,146.5 L215.4,145.0 L211.1,143.6 L208.1,145.0 L205.2,145.8 L203.0,142.8Z" fill="#e8191a"/><ellipse cx="216.5" cy="139.5" rx="3.5" ry="3.5" fill="#d01c16"/><path d="M225.7,130.4 L238.8,129.4 L237.3,131.9 L226.4,132.6Z" fill="#e8191a"/><path d="M223.5,150.9 L226.4,149.0 L230.0,150.1 L232.2,153.1 L235.9,155.2 L238.8,157.4 L239.5,160.4 L234.4,163.3 L232.2,166.2 L230.0,169.1 L226.4,169.1 L225.7,164.7 L224.9,158.9 L222.7,154.5Z" fill="#e8191a"/><ellipse cx="226.5" cy="152" rx="2.5" ry="2.5" fill="#d01c16"/><path d="M248.5,181.0 L250.0,176.3 L252.3,172.5 L256.2,170.9 L260.1,168.6 L263.9,167.1 L267.8,164.8 L270.9,160.9 L271.6,157.8 L276.3,156.3 L280.1,155.5 L284.0,151.6 L287.8,147.8 L292.5,144.7 L294.5,144.0 L294.5,180.2 L290.1,181.0 L287.1,184.1 L283.2,184.8 L276.3,184.1 L273.2,184.8 L271.6,187.1 L272.4,191.0 L274.7,194.1 L277.8,194.1 L280.9,196.4 L280.9,199.5 L277.8,201.0 L274.7,202.6 L271.6,205.7 L269.3,206.4 L267.0,209.5 L263.9,213.4 L262.4,218.0 L263.1,223.4 L260.8,223.9 L259.3,218.0 L257.7,211.8 L257.0,205.7 L256.2,196.4 L256.2,187.1 L254.7,182.5 L251.6,182.5Z" fill="#e8191a"/><path d="M253.1,177.9 L260.8,171.7 L267.0,168.6 L271.6,165.5 L276.3,160.9 L284.0,157.8 L291.7,150.1 L294.5,150.1 L294.5,179.4 L285.5,181.0 L276.3,181.0 L270.1,182.5 L267.0,185.6 L268.5,193.3 L270.1,199.5 L267.0,205.7 L263.9,210.3 L260.8,208.7 L259.3,199.5 L258.5,187.1 L256.2,181.0Z" fill="#d01c16"/><ellipse cx="254.7" cy="174.8" rx="2.4" ry="2.4" fill="#b01712"/><ellipse cx="288.6" cy="164.0" rx="2.2" ry="2.2" fill="#b01712"/><path d="M133.5,198.6 L137.5,196.2 L142.4,194.6 L145.7,191.3 L141.6,186.4 L145.7,185.6 L150.6,183.2 L155.4,179.1 L155.4,176.7 L160.3,174.2 L165.2,172.6 L168.5,170.1 L174.2,169.0 L175.0,173.4 L174.2,176.7 L171.7,179.1 L171.7,182.4 L167.7,182.4 L164.4,180.7 L162.0,183.2 L162.0,188.1 L160.3,190.5 L157.1,192.9 L154.6,196.2 L145.7,197.0 L139.2,198.6 L135.9,199.5Z" fill="#e8191a"/><path d="M156.3,177.5 L162.0,174.2 L169.3,169.3 L174.7,169.0 L174.7,175.8 L171.7,179.1 L165.2,180.7 L158.7,180.7Z" fill="#d01c16"/><path d="M132.6,176.5 L135.1,175.0 L134.5,177.1Z" fill="#e8191a"/><path d="M131.8,211.7 L137.5,208.4 L140.0,208.4 L139.2,210.9 L134.3,213.3Z" fill="#e8191a"/><path d="M127.8,224.7 L131.0,222.7 L134.3,225.5 L132.6,228.0 L134.3,230.4 L133.5,234.5 L130.2,236.1 L129.4,231.2 L128.6,228.0Z" fill="#e8191a"/><path d="M188.8,185.6 L191.3,186.4 L191.3,188.9 L188.8,188.5Z" fill="#e8191a"/><path d="M186.4,196.2 L188.8,193.8 L188.0,198.6 L185.6,199.5Z" fill="#e8191a"/><path d="M62.6,176.2 L66.0,172.5 L67.0,173.5 L64.0,176.5Z" fill="#e8191a"/><path d="M74.5,178.0 L77.0,177.0 L76.5,179.5Z" fill="#e8191a"/><path d="M68.5,185.0 L70.5,185.0 L70.5,187.0 L68.5,187.0Z" fill="#e8191a"/><path d="M54.0,191.0 L56.0,190.0 L55.5,193.0Z" fill="#e8191a"/><path d="M75.0,186.0 L77.0,186.0 L77.0,188.5Z" fill="#e8191a"/><path d="M173.1,169.0 L175.3,169.0 L175.3,174.7 L173.1,174.0Z" fill="#e8191a"/><path d="M42.9,173.0 L47.0,169.7 L49.5,170.0 L46.0,173.0Z" fill="#e8191a"/><path d="M-1.0,213.0 L1.3,213.5 L5.7,212.4 L7.9,211.3 L9.0,215.7 L11.1,218.9 L11.1,224.4 L13.3,227.7 L11.1,231.0 L9.0,229.9 L7.9,226.6 L5.7,222.2 L1.3,222.2 L-1.0,222.0Z" fill="#2200ff"/><path d="M19.9,226.6 L25.4,223.3 L29.8,221.1 L34.1,218.9 L40.7,218.9 L46.2,217.8 L52.7,216.7 L56.0,217.8 L54.9,222.2 L49.5,223.3 L42.9,223.3 L37.4,223.3 L34.1,225.5 L30.8,228.8 L27.6,232.1 L23.2,232.1 L21.0,228.8Z" fill="#2200ff"/><path d="M48.4,241.9 L52.7,239.7 L62.6,239.7 L67.0,241.9 L73.5,238.6 L76.8,236.5 L82.3,236.5 L84.5,239.7 L87.8,240.8 L92.2,244.1 L91.1,249.0 L48.4,249.0Z" fill="#2200ff"/><ellipse cx="59.3" cy="244.3" rx="2.2" ry="1.8" fill="#ffffff"/><ellipse cx="84.5" cy="245.0" rx="1.6" ry="1.6" fill="#ffffff"/><path d="M-1.0,96.9 L3.0,96.0 L6.0,97.5 L10.8,101.0 L8.0,104.2 L-1.0,104.2Z" fill="#2200ff"/><path d="M4.0,1.0 L8.0,-1.0 L11.0,-1.0 L7.0,1.5Z" fill="#2200ff"/><path d="M251.4,11.4 L255.7,8.0 L260.0,4.5 L262.6,2.0 L267.7,1.1 L276.3,0.2 L279.7,1.1 L274.6,4.5 L269.4,7.1 L264.3,8.0 L260.9,10.5 L257.4,14.0 L254.0,14.8 L252.3,14.0Z" fill="#2200ff"/><path d="M240.3,64.5 L243.0,62.0 L248.0,62.0 L251.0,61.5 L250.0,63.5 L245.5,64.5 L242.0,67.0Z" fill="#2200ff"/><path d="M257.4,62.0 L264.3,61.5 L262.6,63.7 L260.0,63.7Z" fill="#2200ff"/><path d="M267.7,61.9 L272.5,59.3 L281.4,58.6 L279.7,61.5 L271.0,62.0Z" fill="#2200ff"/><path d="M256.2,96.3 L258.1,95.4 L261.0,93.5 L263.9,93.0 L266.8,92.0 L269.7,90.6 L272.6,90.1 L275.5,90.6 L278.4,89.6 L281.3,88.2 L284.2,87.2 L288.0,87.7 L290.9,90.1 L292.8,93.0 L291.9,94.9 L289.9,96.8 L288.0,97.8 L285.6,97.3 L282.2,97.8 L278.4,98.8 L275.5,99.2 L272.6,100.2 L270.7,100.7 L268.7,99.2 L266.3,97.3 L263.9,96.3 L261.0,96.3 L258.1,97.8 L256.2,97.8Z" fill="#2200ff"/><path d="M279.9,131.5 L284.0,130.0 L292.5,129.7 L292.5,132.0 L287.0,133.2 L281.0,133.2Z" fill="#e8191a"/>
<line x1="56.34" y1="0" x2="56.34" y2="247.90" class="gl"/>
<line x1="112.68" y1="0" x2="112.68" y2="247.90" class="gl"/>
<line x1="169.02" y1="0" x2="169.02" y2="247.90" class="gl"/>
<line x1="225.36" y1="0" x2="225.36" y2="247.90" class="gl"/>
<line x1="0" y1="236.63" x2="292.97" y2="236.63" class="gl"/>
<line x1="0" y1="180.29" x2="292.97" y2="180.29" class="gl"/>
<line x1="0" y1="123.95" x2="292.97" y2="123.95" class="gl"/>
<line x1="0" y1="67.61" x2="292.97" y2="67.61" class="gl"/>
<line x1="0" y1="11.27" x2="292.97" y2="11.27" class="gl"/>
<use href="#base"/>
</g>
<rect x="0" y="0" width="292.97" height="247.90" class="fr"/>
<line x1="0.00" y1="247.90" x2="0.00" y2="243.60" class="tk"/>
<line x1="0.00" y1="0" x2="0.00" y2="4.3" class="tk"/>
<line x1="56.34" y1="247.90" x2="56.34" y2="243.60" class="tk"/>
<line x1="56.34" y1="0" x2="56.34" y2="4.3" class="tk"/>
<line x1="112.68" y1="247.90" x2="112.68" y2="243.60" class="tk"/>
<line x1="112.68" y1="0" x2="112.68" y2="4.3" class="tk"/>
<line x1="169.02" y1="247.90" x2="169.02" y2="243.60" class="tk"/>
<line x1="169.02" y1="0" x2="169.02" y2="4.3" class="tk"/>
<line x1="225.36" y1="247.90" x2="225.36" y2="243.60" class="tk"/>
<line x1="225.36" y1="0" x2="225.36" y2="4.3" class="tk"/>
<line x1="281.70" y1="247.90" x2="281.70" y2="243.60" class="tk"/>
<line x1="281.70" y1="0" x2="281.70" y2="4.3" class="tk"/>
<line x1="0" y1="236.63" x2="4.3" y2="236.63" class="tk"/>
<line x1="292.97" y1="236.63" x2="288.67" y2="236.63" class="tk"/>
<line x1="0" y1="180.29" x2="4.3" y2="180.29" class="tk"/>
<line x1="292.97" y1="180.29" x2="288.67" y2="180.29" class="tk"/>
<line x1="0" y1="123.95" x2="4.3" y2="123.95" class="tk"/>
<line x1="292.97" y1="123.95" x2="288.67" y2="123.95" class="tk"/>
<line x1="0" y1="67.61" x2="4.3" y2="67.61" class="tk"/>
<line x1="292.97" y1="67.61" x2="288.67" y2="67.61" class="tk"/>
<line x1="0" y1="11.27" x2="4.3" y2="11.27" class="tk"/>
<line x1="292.97" y1="11.27" x2="288.67" y2="11.27" class="tk"/>
<text x="0.00" y="259.80" class="tl" text-anchor="middle" textLength="38.77" lengthAdjust="spacingAndGlyphs">105°E</text>
<text x="56.34" y="259.80" class="tl" text-anchor="middle" textLength="38.77" lengthAdjust="spacingAndGlyphs">110°E</text>
<text x="112.68" y="259.80" class="tl" text-anchor="middle" textLength="38.77" lengthAdjust="spacingAndGlyphs">115°E</text>
<text x="169.02" y="259.80" class="tl" text-anchor="middle" textLength="38.77" lengthAdjust="spacingAndGlyphs">120°E</text>
<text x="225.36" y="259.80" class="tl" text-anchor="middle" textLength="38.77" lengthAdjust="spacingAndGlyphs">125°E</text>
<text x="281.70" y="259.80" class="tl" text-anchor="middle" textLength="38.77" lengthAdjust="spacingAndGlyphs">130°E</text>
<text x="-2.7" y="241.63" class="tl" text-anchor="end" textLength="32.14" lengthAdjust="spacingAndGlyphs">20°N</text>
<text x="-2.7" y="185.29" class="tl" text-anchor="end" textLength="32.14" lengthAdjust="spacingAndGlyphs">25°N</text>
<text x="-2.7" y="128.95" class="tl" text-anchor="end" textLength="32.14" lengthAdjust="spacingAndGlyphs">30°N</text>
<text x="-2.7" y="72.61" class="tl" text-anchor="end" textLength="32.14" lengthAdjust="spacingAndGlyphs">35°N</text>
<text x="-2.7" y="16.27" class="tl" text-anchor="end" textLength="32.14" lengthAdjust="spacingAndGlyphs">40°N</text>
<text x="5.0" y="16.6" class="tt" textLength="40.11" lengthAdjust="spacingAndGlyphs">(b) r(δ</text>
<text x="47.71" y="11.7" class="sp" textLength="9.4" lengthAdjust="spacingAndGlyphs">18</text>
<text x="58.61" y="16.6" class="tt" textLength="129.06" lengthAdjust="spacingAndGlyphs">O, ω | Moisture flux)</text>
</g>
<g transform="translate(383.30,3.03)">
<clipPath id="cpc"><rect x="0" y="0" width="292.97" height="247.90"/></clipPath>
<g clip-path="url(#cpc)">
<path d="M73.1,76.6 L76.0,71.3 L78.4,73.7 L81.9,73.7 L86.6,73.7 L88.9,75.4 L90.1,73.7 L91.8,75.4 L94.1,73.7 L95.9,75.4 L97.6,73.7 L99.4,75.4 L101.7,73.7 L104.1,75.4 L107.0,74.8 L109.3,73.7 L110.5,77.2 L112.8,78.9 L115.8,80.1 L118.1,81.8 L120.4,84.2 L119.8,87.1 L118.1,88.2 L118.7,90.6 L120.4,92.6 L118.1,92.9 L115.8,91.2 L113.4,90.0 L111.1,88.2 L108.7,87.1 L106.4,85.9 L104.1,85.3 L101.7,85.3 L100.0,86.5 L99.4,88.8 L101.7,91.8 L105.2,92.6 L108.7,94.1 L111.1,97.0 L112.2,99.3 L109.9,101.1 L106.4,101.7 L101.7,101.7 L99.4,102.8 L97.6,103.4 L93.6,103.4 L90.1,102.3 L88.3,99.3 L87.1,97.0 L89.5,95.8 L91.2,97.6 L93.6,97.0 L95.9,95.3 L97.1,93.5 L95.9,91.8 L93.6,90.0 L90.1,88.8 L86.0,88.2 L84.2,86.5 L84.2,84.2 L81.9,81.8 L79.5,80.1 L78.4,78.3 L76.6,77.7 L73.7,78.3Z" fill="#d01c16"/><path d="M107.6,80.7 L113.4,79.5 L118.1,82.4 L119.8,86.5 L118.1,88.8 L113.4,89.4 L108.7,86.5Z" fill="#b01712"/><path d="M95.9,93.5 L99.4,92.3 L105.2,92.9 L109.9,95.3 L111.7,98.8 L108.7,101.1 L101.7,101.1 L97.1,100.5 L95.9,97.0Z" fill="#b01712"/><path d="M100.6,96.5 L104.0,95.8 L108.7,97.5 L106.0,99.3 L101.0,99.0Z" fill="#b01712"/><path d="M79.5,64.9 L84.2,64.9 L81.9,67.2Z" fill="#e8191a"/><path d="M62.1,99.6 L65.1,96.6 L66.8,97.2 L65.6,99.6 L68.6,100.7 L73.2,99.6 L76.7,99.0 L80.2,100.7 L83.2,102.5 L83.7,104.2 L81.4,104.2 L77.9,102.5 L75.6,101.9 L73.2,102.5 L69.7,103.7 L66.2,103.1 L63.3,101.9 L62.1,100.7Z" fill="#e8191a"/><path d="M5.5,107.3 L15.8,108.8 L10.6,111.0 L8.5,114.6Z" fill="#e8191a"/><path d="M132.1,90.6 L134.4,92.3 L136.8,93.5 L133.3,94.1Z" fill="#e8191a"/><path d="M31.3,145.8 L33.2,144.5 L32.2,146.8Z" fill="#e8191a"/><path d="M8.6,195.2 L13.5,194.6 L10.5,197.1Z" fill="#e8191a"/><path d="M-1.0,219.8 L2.7,220.5 L1.0,221.8 L-1.0,221.8Z" fill="#e8191a"/><path d="M19.4,158.7 L26.3,157.7 L27.3,160.6 L24.4,162.6 L21.4,160.6Z" fill="#2200ff"/><path d="M40.1,161.6 L44.1,160.2 L48.0,162.6 L53.0,163.6 L55.9,165.6 L53.0,166.6 L48.0,165.6 L44.1,163.6Z" fill="#2200ff"/><path d="M61.8,162.6 L69.7,160.6 L67.7,164.6 L67.7,168.5 L64.8,166.6Z" fill="#2200ff"/><path d="M90.4,155.7 L92.4,155.7 L92.4,159.7Z" fill="#2200ff"/><path d="M28.3,192.6 L33.2,193.2 L37.2,196.1 L41.1,198.5 L48.0,199.1 L50.6,201.1 L50.6,205.6 L43.1,206.0 L37.2,204.0 L32.2,201.1 L28.3,197.1Z" fill="#2200ff"/><path d="M19.4,207.0 L30.3,205.0 L27.3,208.0 L21.4,208.4Z" fill="#2200ff"/><path d="M45.1,211.9 L50.0,210.9 L49.0,213.9 L46.1,213.9Z" fill="#2200ff"/><path d="M17.5,217.8 L23.4,219.8 L27.3,223.8 L32.2,224.7 L34.2,227.7 L31.3,231.6 L29.3,235.6 L27.3,231.6 L24.4,227.7 L21.4,224.7 L18.4,221.8Z" fill="#2200ff"/><path d="M33.2,220.8 L39.1,219.8 L38.2,224.7 L34.2,223.8Z" fill="#2200ff"/><path d="M14.5,237.6 L17.5,239.5 L19.4,241.5 L16.5,241.5Z" fill="#2200ff"/><path d="M62.8,244.5 L65.8,242.5 L66.8,243.5 L64.8,246.4Z" fill="#2200ff"/><path d="M95.4,203.0 L98.0,202.0 L99.7,204.0 L97.0,206.0Z" fill="#2200ff"/><path d="M94.4,221.0 L97.0,219.8 L99.7,222.0 L98.0,225.7 L95.5,224.0Z" fill="#2200ff"/><path d="M115.9,152.5 L118.8,150.3 L122.5,149.6 L125.4,151.1 L129.0,152.5 L129.8,156.2 L132.0,158.4 L134.9,159.8 L137.1,158.4 L139.3,161.3 L140.7,165.7 L137.8,164.9 L134.9,166.4 L132.0,167.8 L130.5,170.8 L127.6,171.5 L124.7,170.8 L121.7,169.3 L118.8,170.8 L116.6,168.6 L115.9,165.7 L114.4,163.5 L112.2,162.0 L110.8,159.8 L113.0,158.4 L115.9,156.9 L117.4,154.7Z" fill="#2200ff"/><ellipse cx="118.1" cy="160.5" rx="1.8" ry="1.8" fill="#ffffff"/><path d="M98.4,153.2 L102.8,152.5 L104.9,154.0 L107.1,155.4 L109.3,157.6 L107.1,159.8 L104.2,160.5 L102.0,162.0 L101.3,159.8 L103.5,157.6 L101.3,156.2 L99.1,155.4Z" fill="#2200ff"/><path d="M90.3,155.4 L92.5,154.7 L92.5,159.8 L91.1,158.4Z" fill="#2200ff"/><path d="M110.1,172.2 L112.2,173.0 L114.4,174.4 L110.8,174.4Z" fill="#2200ff"/><path d="M160.4,146.7 L166.3,146.7 L166.3,149.6 L160.4,149.6Z" fill="#2200ff"/><path d="M169.2,152.5 L171.4,152.5 L171.4,154.7 L169.2,154.7Z" fill="#2200ff"/><path d="M141.4,146.0 L142.9,146.0 L142.9,147.4Z" fill="#2200ff"/><path d="M183.0,186.1 L185.2,187.0 L184.5,189.0Z" fill="#2200ff"/><path d="M191.7,138.8 L196.8,138.0 L201.8,138.8 L206.8,138.0 L211.9,138.5 L216.9,140.5 L220.3,142.2 L225.3,141.3 L229.5,139.6 L232.0,135.4 L231.2,132.1 L234.5,130.4 L236.2,133.8 L237.1,138.0 L240.4,139.6 L243.8,141.3 L244.6,144.7 L240.4,146.3 L235.4,147.2 L230.3,148.0 L227.8,150.5 L227.8,154.7 L225.3,157.3 L222.0,159.0 L219.4,161.5 L217.8,159.8 L216.9,156.4 L216.9,152.2 L216.1,148.9 L211.9,147.2 L206.8,145.5 L201.8,145.5 L198.2,147.2 L196.8,148.9 L194.2,146.3 L191.7,143.8 L190.9,141.3Z" fill="#2200ff"/><ellipse cx="221.1" cy="152.2" rx="2.2" ry="2.2" fill="#1c00dd"/><path d="M240.4,160.6 L244.6,158.1 L249.6,156.4 L253.8,154.7 L257.2,155.6 L260.6,154.7 L263.9,155.6 L264.8,158.9 L260.6,160.6 L256.4,160.6 L253.0,162.3 L248.8,163.1 L245.5,165.7 L242.1,164.0Z" fill="#2200ff"/><path d="M225.3,169.9 L230.3,169.0 L232.9,171.5 L229.5,173.2 L227.8,176.6 L226.1,174.9Z" fill="#2200ff"/><path d="M267.3,148.0 L270.6,148.5 L269.5,149.9Z" fill="#2200ff"/><path d="M289.1,165.7 L294.0,165.7 L294.0,169.0 L290.0,169.0Z" fill="#2200ff"/><path d="M273.2,189.2 L275.2,189.5 L275.7,193.3 L274.5,192.0Z" fill="#e8191a"/><path d="M233.8,222.0 L236.0,220.3 L237.5,223.5 L240.4,225.7 L244.0,222.0 L245.5,217.6 L247.7,214.7 L248.4,208.1 L251.3,206.0 L253.5,207.4 L256.4,206.0 L259.4,204.5 L262.3,200.8 L265.2,200.8 L266.7,202.3 L270.3,200.1 L270.3,205.9 L269.6,215.4 L265.9,216.9 L263.0,218.4 L259.4,220.6 L256.4,222.7 L256.4,227.1 L259.4,230.8 L262.3,233.7 L264.5,236.6 L262.3,238.1 L259.4,241.0 L258.6,244.6 L255.7,245.4 L245.5,245.4 L242.6,246.8 L239.7,247.5 L236.7,243.2 L234.5,239.5 L233.8,233.7Z" fill="#2200ff"/><path d="M239.7,226.0 L245.0,222.0 L249.9,228.0 L249.9,242.4 L243.0,242.4 L239.7,236.0Z" fill="#1c00dd"/><path d="M273.2,232.2 L275.4,228.6 L275.4,230.8 L274.0,233.7Z" fill="#2200ff"/><path d="M272.5,189.2 L275.4,188.7 L275.4,193.5 L274.0,192.1Z" fill="#e8191a"/><path d="M128.9,15.9 L132.9,14.5 L139.7,13.5 L137.0,21.3 L131.6,24.0 L130.2,21.3Z" fill="#e8191a"/><path d="M166.0,7.5 L167.5,7.0 L167.0,9.0Z" fill="#e8191a"/><path d="M181.5,17.6 L186.9,17.2 L186.0,18.8 L182.0,18.8Z" fill="#e8191a"/><path d="M205.8,15.5 L209.9,14.5 L208.5,17.2Z" fill="#e8191a"/><path d="M225.2,38.5 L232.8,37.5 L238.0,36.0 L241.0,35.5 L243.6,37.5 L244.7,41.5 L238.2,42.9 L230.1,43.4 L226.1,44.2 L225.2,41.5Z" fill="#2200ff"/><path d="M233.8,51.0 L239.6,48.3 L242.3,46.9 L244.7,50.0 L243.6,53.2 L239.6,53.2 L235.5,53.4Z" fill="#2200ff"/><path d="M267.9,22.6 L272.0,21.3 L276.0,24.0 L272.0,25.3 L270.6,28.0Z" fill="#2200ff"/><path d="M273.3,30.2 L274.8,30.2 L279.5,39.5 L278.0,40.2Z" fill="#2200ff"/><path d="M278.7,6.4 L286.8,6.4 L289.5,10.5 L280.1,10.5Z" fill="#2200ff"/><path d="M250.0,16.8 L251.5,17.0 L250.5,18.5Z" fill="#e8191a"/><path d="M250.4,53.7 L252.0,53.7 L253.1,57.7 L251.3,57.0Z" fill="#e8191a"/><path d="M236.9,60.4 L242.3,59.1 L239.6,61.8Z" fill="#e8191a"/><path d="M289.5,47.0 L293.0,46.5 L293.0,49.0Z" fill="#e8191a"/><path d="M244.2,98.2 L249.0,96.1 L253.1,94.1 L256.5,90.6 L260.7,88.6 L264.1,87.9 L264.8,91.3 L268.2,93.4 L271.6,95.4 L275.1,96.8 L277.8,98.9 L280.6,101.0 L284.0,104.4 L286.8,107.1 L288.1,110.5 L285.4,112.6 L279.9,111.9 L275.8,109.9 L271.6,107.1 L267.5,107.8 L263.4,109.2 L260.7,111.2 L256.5,112.6 L253.8,110.5 L251.0,107.8 L247.6,105.7 L244.9,102.3Z" fill="#e8191a"/><path d="M257.9,96.8 L268.9,95.4 L277.1,100.9 L284.0,106.4 L286.8,110.5 L278.5,111.2 L273.0,107.8 L264.8,106.4 L257.9,103.7Z" fill="#d01c16"/><path d="M202.4,96.3 L214.1,95.7 L216.4,94.0 L218.7,98.1 L211.7,98.6 L203.6,98.6Z" fill="#e8191a"/><path d="M228.1,98.1 L231.6,91.6 L236.3,92.8 L232.8,96.3 L230.4,98.6Z" fill="#e8191a"/><path d="M248.3,87.9 L250.4,88.3 L250.0,89.8Z" fill="#e8191a"/><path d="M282.6,85.8 L286.8,84.5 L285.5,87.9Z" fill="#e8191a"/><path d="M290.2,84.4 L292.2,85.0 L291.5,86.5Z" fill="#e8191a"/><path d="M251.7,57.0 L253.8,57.5 L252.5,58.5Z" fill="#e8191a"/>
<line x1="56.34" y1="0" x2="56.34" y2="247.90" class="gl"/>
<line x1="112.68" y1="0" x2="112.68" y2="247.90" class="gl"/>
<line x1="169.02" y1="0" x2="169.02" y2="247.90" class="gl"/>
<line x1="225.36" y1="0" x2="225.36" y2="247.90" class="gl"/>
<line x1="0" y1="236.63" x2="292.97" y2="236.63" class="gl"/>
<line x1="0" y1="180.29" x2="292.97" y2="180.29" class="gl"/>
<line x1="0" y1="123.95" x2="292.97" y2="123.95" class="gl"/>
<line x1="0" y1="67.61" x2="292.97" y2="67.61" class="gl"/>
<line x1="0" y1="11.27" x2="292.97" y2="11.27" class="gl"/>
<use href="#base"/>
</g>
<rect x="0" y="0" width="292.97" height="247.90" class="fr"/>
<line x1="0.00" y1="247.90" x2="0.00" y2="243.60" class="tk"/>
<line x1="0.00" y1="0" x2="0.00" y2="4.3" class="tk"/>
<line x1="56.34" y1="247.90" x2="56.34" y2="243.60" class="tk"/>
<line x1="56.34" y1="0" x2="56.34" y2="4.3" class="tk"/>
<line x1="112.68" y1="247.90" x2="112.68" y2="243.60" class="tk"/>
<line x1="112.68" y1="0" x2="112.68" y2="4.3" class="tk"/>
<line x1="169.02" y1="247.90" x2="169.02" y2="243.60" class="tk"/>
<line x1="169.02" y1="0" x2="169.02" y2="4.3" class="tk"/>
<line x1="225.36" y1="247.90" x2="225.36" y2="243.60" class="tk"/>
<line x1="225.36" y1="0" x2="225.36" y2="4.3" class="tk"/>
<line x1="281.70" y1="247.90" x2="281.70" y2="243.60" class="tk"/>
<line x1="281.70" y1="0" x2="281.70" y2="4.3" class="tk"/>
<line x1="0" y1="236.63" x2="4.3" y2="236.63" class="tk"/>
<line x1="292.97" y1="236.63" x2="288.67" y2="236.63" class="tk"/>
<line x1="0" y1="180.29" x2="4.3" y2="180.29" class="tk"/>
<line x1="292.97" y1="180.29" x2="288.67" y2="180.29" class="tk"/>
<line x1="0" y1="123.95" x2="4.3" y2="123.95" class="tk"/>
<line x1="292.97" y1="123.95" x2="288.67" y2="123.95" class="tk"/>
<line x1="0" y1="67.61" x2="4.3" y2="67.61" class="tk"/>
<line x1="292.97" y1="67.61" x2="288.67" y2="67.61" class="tk"/>
<line x1="0" y1="11.27" x2="4.3" y2="11.27" class="tk"/>
<line x1="292.97" y1="11.27" x2="288.67" y2="11.27" class="tk"/>
<text x="0.00" y="259.80" class="tl" text-anchor="middle" textLength="38.77" lengthAdjust="spacingAndGlyphs">105°E</text>
<text x="56.34" y="259.80" class="tl" text-anchor="middle" textLength="38.77" lengthAdjust="spacingAndGlyphs">110°E</text>
<text x="112.68" y="259.80" class="tl" text-anchor="middle" textLength="38.77" lengthAdjust="spacingAndGlyphs">115°E</text>
<text x="169.02" y="259.80" class="tl" text-anchor="middle" textLength="38.77" lengthAdjust="spacingAndGlyphs">120°E</text>
<text x="225.36" y="259.80" class="tl" text-anchor="middle" textLength="38.77" lengthAdjust="spacingAndGlyphs">125°E</text>
<text x="281.70" y="259.80" class="tl" text-anchor="middle" textLength="38.77" lengthAdjust="spacingAndGlyphs">130°E</text>
<text x="-2.7" y="241.63" class="tl" text-anchor="end" textLength="32.14" lengthAdjust="spacingAndGlyphs">20°N</text>
<text x="-2.7" y="185.29" class="tl" text-anchor="end" textLength="32.14" lengthAdjust="spacingAndGlyphs">25°N</text>
<text x="-2.7" y="128.95" class="tl" text-anchor="end" textLength="32.14" lengthAdjust="spacingAndGlyphs">30°N</text>
<text x="-2.7" y="72.61" class="tl" text-anchor="end" textLength="32.14" lengthAdjust="spacingAndGlyphs">35°N</text>
<text x="-2.7" y="16.27" class="tl" text-anchor="end" textLength="32.14" lengthAdjust="spacingAndGlyphs">40°N</text>
<text x="5.0" y="16.6" class="tt" textLength="39.03" lengthAdjust="spacingAndGlyphs">(c) r(δ</text>
<text x="46.63" y="11.7" class="sp" textLength="9.4" lengthAdjust="spacingAndGlyphs">18</text>
<text x="57.53" y="16.6" class="tt" textLength="126.80" lengthAdjust="spacingAndGlyphs">O, Thermodynamic)</text>
</g>
<g transform="translate(383.30,285.33)">
<clipPath id="cpd"><rect x="0" y="0" width="292.97" height="247.90"/></clipPath>
<g clip-path="url(#cpd)">
<path d="M47.9,181.9 L49.4,180.4 L53.0,183.0 L55.6,185.6 L55.1,189.7 L54.1,192.2 L55.6,194.3 L51.5,196.9 L48.4,198.9 L47.9,196.4 L51.5,193.3 L52.0,190.7 L48.9,187.6 L47.9,184.5Z" fill="#2200ff"/><path d="M47.9,181.7 L55.9,181.7 L55.9,187.5 L52.3,190.4 L49.3,195.5 L47.9,193.3 L50.1,189.0 L47.9,186.8Z" fill="#2200ff"/><path d="M40.0,168.0 L50.0,166.0 L60.0,163.0 L70.0,163.0 L62.0,170.0 L57.0,174.7 L52.0,176.0 L46.0,175.0Z" fill="#2200ff"/><path d="M56.0,166.7 L91.1,165.5 L88.7,170.2 L84.1,171.3 L75.9,171.3 L70.1,174.9 L64.2,177.2 L58.4,176.0 L56.0,171.3Z" fill="#2200ff"/><path d="M57.8,170.8 L64.2,170.2 L64.2,174.9 L68.3,179.5 L73.6,181.9 L77.6,186.5 L81.7,190.0 L84.1,192.4 L84.7,199.4 L81.7,201.7 L78.2,200.5 L76.5,205.2 L75.3,207.6 L73.0,205.2 L71.8,199.4 L66.6,194.7 L64.2,191.2 L64.2,186.5 L60.7,181.9 L58.4,177.2Z" fill="#2200ff"/><path d="M66.0,182.4 L70.1,184.2 L74.7,190.0 L75.9,194.7 L73.6,195.3 L70.1,191.2 L66.6,186.5Z" fill="#ffffff"/><rect x="80.2" y="195.5" width="3.0" height="3.0" fill="#ffffff" transform="rotate(45 81.7 197.0)"/><path d="M84.1,174.9 L89.9,174.3 L94.6,176.0 L98.1,179.5 L101.0,184.2 L101.6,188.9 L99.3,192.4 L100.4,197.0 L103.9,202.9 L103.3,206.4 L100.4,205.2 L96.9,200.5 L93.4,197.0 L92.2,192.4 L89.9,188.9 L85.2,183.0 L84.1,178.4Z" fill="#2200ff"/><path d="M89.9,177.2 L94.6,178.9 L98.1,184.2 L96.9,187.7 L93.4,186.5 L90.5,181.9Z" fill="#ffffff"/><path d="M113.6,175.3 L119.0,174.2 L122.3,179.7 L126.7,183.0 L131.1,179.7 L132.2,185.2 L128.9,187.4 L125.6,192.8 L122.3,195.1 L119.0,189.6 L115.8,184.1 L113.6,179.7Z" fill="#2200ff"/><path d="M117.0,177.0 L119.0,176.5 L124.0,186.0 L122.5,188.0Z" fill="#ffffff"/><path d="M3.0,162.0 L5.5,160.4 L9.9,161.2 L13.6,159.0 L17.2,157.5 L20.1,155.3 L24.5,154.6 L28.9,155.3 L33.3,153.1 L36.2,151.7 L39.8,152.4 L43.5,153.1 L47.9,153.9 L52.3,154.6 L56.6,154.6 L58.8,150.9 L62.5,148.0 L66.9,143.6 L71.2,140.7 L75.6,138.5 L79.3,137.8 L82.5,138.8 L88.4,141.7 L95.7,143.1 L105.9,143.9 L114.7,143.6 L120.5,143.1 L124.9,142.4 L127.8,141.0 L131.4,140.2 L134.4,141.7 L138.0,141.0 L140.9,142.4 L145.3,143.1 L149.7,143.1 L154.1,142.4 L158.5,141.0 L160.6,141.7 L158.5,144.6 L155.5,147.5 L152.6,150.4 L149.7,149.7 L146.8,150.4 L142.4,151.2 L138.0,151.9 L133.6,152.6 L129.2,154.1 L124.9,155.5 L120.5,157.0 L116.1,158.5 L111.7,159.9 L105.9,159.9 L100.1,159.9 L94.2,161.4 L88.4,162.8 L85.5,164.3 L81.1,164.3 L76.3,163.3 L69.8,164.4 L65.4,163.3 L61.0,160.0 L57.7,161.1 L54.4,165.5 L50.1,170.9 L43.5,173.1 L39.1,174.2 L34.7,172.0 L28.2,168.8 L21.6,166.6 L17.2,168.8 L13.9,171.0 L11.7,166.6 L8.5,164.4 L6.3,162.2Z" fill="#2200ff"/><path d="M80.0,144.0 L90.0,144.5 L105.0,146.0 L120.0,146.0 L130.0,146.0 L128.0,152.0 L118.0,155.0 L105.0,157.0 L92.0,158.5 L82.0,160.0Z" fill="#1c00dd"/><path d="M33.0,158.0 L42.0,157.0 L52.0,158.0 L54.0,163.0 L48.0,167.0 L38.0,168.0Z" fill="#1c00dd"/><path d="M56.6,159.3 L59.7,158.3 L62.3,161.9 L63.3,166.0 L61.3,168.1 L58.2,167.5 L56.6,165.0Z" fill="#ffffff"/><ellipse cx="70.0" cy="164.4" rx="2.1" ry="3.1" fill="#ffffff"/><path d="M115.7,76.1 L118.6,76.8 L121.5,78.2 L125.9,74.6 L130.3,70.9 L134.7,68.0 L139.0,63.6 L142.0,62.2 L146.3,59.3 L152.2,58.5 L155.1,57.1 L158.0,59.3 L162.4,59.3 L166.8,58.5 L169.7,57.8 L172.6,57.8 L175.5,57.1 L178.5,54.9 L181.4,53.4 L184.3,54.2 L185.7,56.4 L185.0,59.3 L181.4,58.5 L177.0,58.5 L173.3,59.3 L170.4,60.7 L169.0,63.6 L170.4,66.6 L166.8,68.0 L165.3,71.0 L163.9,73.9 L162.4,76.8 L160.9,81.2 L159.5,85.5 L155.1,87.0 L149.3,88.5 L144.9,89.2 L142.0,89.2 L139.0,86.3 L137.6,84.8 L136.1,87.0 L134.7,89.9 L133.2,92.8 L128.8,92.8 L123.0,93.6 L118.6,95.0 L115.7,95.0 L114.2,91.4 L112.8,88.5 L114.2,85.5 L117.1,83.3 L120.1,80.4 L118.6,79.0 L115.7,77.5Z" fill="#2200ff"/><path d="M131.7,72.4 L137.6,70.2 L143.4,70.9 L144.9,76.8 L140.5,82.6 L134.7,83.3 L131.7,79.7Z" fill="#1c00dd"/><path d="M133.5,76.8 L140.0,76.0 L141.5,78.5 L135.0,79.7Z" fill="#1800bb"/><path d="M191.3,118.5 L195.7,118.5 L199.3,121.4 L198.6,125.8 L197.9,130.1 L195.0,130.9 L193.5,127.2 L192.0,122.8Z" fill="#2200ff"/><path d="M194.2,144.7 L198.6,141.8 L203.0,138.9 L205.9,134.5 L210.3,132.3 L216.1,130.9 L219.0,130.1 L219.8,131.6 L216.1,133.8 L215.4,136.0 L220.5,138.9 L223.3,143.2 L224.8,147.8 L226.4,151.7 L231.8,153.2 L234.1,155.5 L233.3,160.2 L231.8,161.7 L228.7,160.2 L224.8,159.4 L220.2,158.6 L217.1,157.8 L214.0,152.4 L211.0,147.8 L206.3,146.3 L201.7,147.8 L197.1,147.0Z" fill="#2200ff"/><ellipse cx="230.2" cy="157.1" rx="1.5" ry="1.5" fill="#ffffff"/><path d="M228.5,130.9 L238.7,129.4 L237.3,131.6 L229.2,131.9Z" fill="#2200ff"/><path d="M218.7,181.8 L221.8,184.1 L224.8,185.6 L227.2,184.1 L228.7,182.5 L226.4,186.4 L223.3,187.9 L220.2,185.6Z" fill="#2200ff"/><path d="M222.5,174.8 L224.8,174.1 L224.8,177.1Z" fill="#2200ff"/><path d="M243.4,166.3 L246.5,163.2 L251.1,160.2 L254.2,157.8 L260.3,155.5 L266.5,157.1 L270.4,154.8 L274.2,153.2 L277.3,150.9 L280.4,147.8 L278.9,144.7 L281.9,141.6 L286.6,138.6 L289.7,135.5 L286.6,133.9 L281.9,133.2 L277.3,133.2 L281.9,131.6 L294.5,131.6 L294.5,188.0 L289.7,189.5 L286.6,191.0 L283.5,192.6 L281.2,195.7 L280.4,198.7 L277.3,199.5 L275.8,197.2 L274.2,194.1 L271.1,192.6 L268.1,194.1 L265.0,197.2 L263.4,200.3 L260.3,201.8 L258.0,204.9 L255.7,204.1 L254.2,198.7 L252.6,192.6 L251.1,188.0 L248.0,183.3 L246.5,178.7 L244.9,172.5Z" fill="#2200ff"/><path d="M276.0,156.0 L285.0,150.0 L294.5,145.0 L294.5,188.0 L286.0,190.0 L280.0,188.0 L276.0,175.0Z" fill="#1c00dd"/><ellipse cx="288.1" cy="171" rx="2.6" ry="4" fill="#1800bb"/><path d="M252.0,-1.0 L294.5,-1.0 L294.5,38.7 L291.6,38.7 L289.7,40.7 L285.8,43.6 L283.8,44.6 L280.9,40.7 L279.9,36.7 L278.0,34.8 L276.0,31.9 L273.1,29.0 L270.1,26.0 L266.2,23.1 L261.4,20.1 L259.4,17.2 L258.4,12.3 L255.5,9.4 L253.5,6.5 L252.6,3.5Z" fill="#e8191a"/><path d="M256.5,0.0 L271.0,0.0 L268.0,6.0 L262.0,10.4 L258.0,9.0Z" fill="#d01c16"/><ellipse cx="274.0" cy="4.5" rx="2.5" ry="2.8" fill="#ffffff"/><ellipse cx="263.3" cy="1.2" rx="1.5" ry="1.5" fill="#ffffff"/><ellipse cx="290.7" cy="5.5" rx="1.6" ry="3" fill="#ffffff"/><ellipse cx="274.5" cy="18.2" rx="3.9" ry="3.9" fill="#ffffff"/><ellipse cx="281.4" cy="15.3" rx="3.0" ry="3.0" fill="#ffffff"/><ellipse cx="289.7" cy="17.7" rx="3.0" ry="3.2" fill="#ffffff"/><rect x="285.7" y="23.5" width="3.0" height="3.0" fill="#ffffff" transform="rotate(45 287.2 25.0)"/><rect x="282.9" y="32.4" width="2.8" height="2.8" fill="#ffffff" transform="rotate(45 284.3 33.8)"/><ellipse cx="290.2" cy="30.9" rx="1.2" ry="1.5" fill="#ffffff"/><path d="M270.1,33.8 L273.1,35.8 L276.0,41.6 L278.0,46.5 L278.9,49.4 L277.5,49.4 L275.0,45.5 L272.6,39.7 L270.6,36.8Z" fill="#e8191a"/><path d="M273.5,56.3 L279.6,55.6 L285.8,56.0 L290.4,56.3 L292.0,58.6 L288.9,61.0 L282.7,61.0 L276.5,60.2Z" fill="#e8191a"/><path d="M259.6,63.3 L263.4,61.7 L266.5,64.1 L264.2,66.4 L260.3,65.6Z" fill="#e8191a"/><path d="M244.9,47.1 L247.2,48.0 L246.0,50.2Z" fill="#e8191a"/><path d="M244.8,81.8 L250.4,81.8 L250.4,84.4 L247.9,84.4Z" fill="#e8191a"/><path d="M214.7,77.6 L219.8,76.1 L217.6,78.3Z" fill="#e8191a"/><path d="M214.8,78.0 L219.4,75.6 L217.9,78.7Z" fill="#e8191a"/><path d="M256.1,96.2 L260.2,94.7 L264.3,93.1 L268.5,91.6 L271.5,89.5 L274.6,86.4 L277.7,84.4 L280.8,82.8 L282.9,81.3 L279.8,80.2 L276.7,78.7 L271.5,78.2 L274.6,76.1 L277.7,74.1 L282.9,72.5 L288.0,71.0 L292.1,68.9 L294.5,68.0 L294.5,80.2 L290.1,83.3 L289.0,86.4 L290.1,89.5 L287.0,90.5 L283.9,94.7 L281.8,97.7 L279.8,99.8 L274.6,100.8 L269.5,101.9 L265.4,102.9 L261.3,104.9 L259.2,104.9 L258.2,101.9 L256.6,99.8Z" fill="#e8191a"/><path d="M262.3,94.7 L272.6,91.6 L280.8,86.4 L284.9,83.3 L288.0,85.4 L287.0,89.5 L282.9,94.7 L278.7,98.8 L271.5,100.8 L263.3,102.9 L260.2,100.8Z" fill="#d01c16"/><path d="M191.3,87.8 L198.6,87.1 L205.9,87.8 L211.7,89.3 L217.6,88.5 L220.5,87.1 L224.9,87.8 L227.8,88.5 L226.3,90.7 L223.4,92.2 L219.0,92.9 L214.7,95.1 L211.7,97.3 L207.4,99.5 L203.0,101.7 L198.6,101.0 L195.7,99.5 L194.2,96.6 L195.7,93.6 L192.0,92.2Z" fill="#e8191a"/><path d="M200.1,95.1 L213.2,92.2 L220.5,90.7 L219.0,92.9 L211.7,97.3 L204.4,100.2 L198.6,98.8Z" fill="#d01c16"/><path d="M245.3,82.7 L249.7,81.7 L250.4,84.2 L246.8,84.9Z" fill="#e8191a"/><path d="M273.0,74.7 L276.7,74.7 L276.7,77.6 L274.0,77.0Z" fill="#e8191a"/><path d="M191.6,88.0 L196.7,87.5 L196.7,94.3 L192.5,93.0Z" fill="#e8191a"/><path d="M44.9,14.7 L47.9,10.7 L51.9,12.7 L55.9,13.7 L55.9,17.7 L51.9,16.7 L47.9,18.8Z" fill="#e8191a"/><path d="M85.0,70.0 L90.1,66.0 L93.1,67.0 L89.1,69.0Z" fill="#e8191a"/><path d="M77.0,88.0 L82.0,86.0 L87.1,85.0 L86.0,89.0 L82.0,93.0Z" fill="#e8191a"/><path d="M6.7,102.1 L9.7,96.1 L15.8,98.1 L18.8,100.1 L15.8,104.1 L13.8,107.1 L7.7,106.1Z" fill="#e8191a"/><ellipse cx="29.4" cy="100.1" rx="4.2" ry="4.2" fill="#e8191a"/><path d="M27.8,103.0 L30.8,103.0 L30.8,109.1 L27.8,109.1Z" fill="#e8191a"/><path d="M50.9,107.1 L54.9,110.1 L55.9,113.1 L53.9,112.1Z" fill="#e8191a"/><path d="M175.8,183.5 L182.7,182.7 L180.0,186.0 L176.5,187.3Z" fill="#e8191a"/><path d="M-1.0,219.6 L1.2,219.6 L4.1,221.8 L8.5,225.5 L12.8,227.7 L18.7,228.4 L14.3,231.3 L11.4,234.2 L9.9,237.1 L8.5,240.1 L7.0,244.4 L6.0,249.0 L-1.0,249.0Z" fill="#e8191a"/><path d="M-1.0,224.0 L1.2,224.0 L5.5,225.5 L8.5,229.8 L8.5,237.1 L5.5,243.0 L4.0,249.0 L-1.0,249.0Z" fill="#d01c16"/><path d="M2.6,211.6 L7.0,208.7 L10.6,205.8 L9.9,209.4 L7.7,213.1 L7.0,216.0 L5.5,213.1Z" fill="#e8191a"/><path d="M19.4,236.4 L21.6,238.6 L20.1,240.8Z" fill="#e8191a"/><path d="M36.9,235.0 L39.1,233.5 L39.1,235.7Z" fill="#e8191a"/><path d="M45.0,238.6 L49.3,236.4 L55.2,236.9 L55.9,240.1 L55.2,243.7 L55.5,249.0 L46.4,249.0 L45.5,243.7Z" fill="#e8191a"/><path d="M47.0,239.5 L53.0,238.5 L54.0,243.0 L53.0,247.0 L48.0,247.0Z" fill="#d01c16"/><path d="M67.6,240.1 L71.2,239.3 L74.2,238.6 L76.3,240.8 L77.1,243.7 L77.1,249.0 L67.6,249.0Z" fill="#e8191a"/><path d="M87.3,242.3 L90.2,240.8 L93.1,243.0 L90.9,244.4Z" fill="#e8191a"/><path d="M36.2,197.0 L38.4,198.5 L39.1,201.4 L37.7,200.7Z" fill="#2200ff"/><path d="M154.1,191.0 L156.0,189.9 L157.7,194.0 L156.5,199.5 L154.5,197.0Z" fill="#2200ff"/><path d="M164.9,205.0 L167.0,204.3 L168.5,206.5 L166.0,207.9Z" fill="#2200ff"/><path d="M189.5,165.5 L191.0,165.0 L190.8,167.0Z" fill="#2200ff"/>
<line x1="56.34" y1="0" x2="56.34" y2="247.90" class="gl"/>
<line x1="112.68" y1="0" x2="112.68" y2="247.90" class="gl"/>
<line x1="169.02" y1="0" x2="169.02" y2="247.90" class="gl"/>
<line x1="225.36" y1="0" x2="225.36" y2="247.90" class="gl"/>
<line x1="0" y1="236.63" x2="292.97" y2="236.63" class="gl"/>
<line x1="0" y1="180.29" x2="292.97" y2="180.29" class="gl"/>
<line x1="0" y1="123.95" x2="292.97" y2="123.95" class="gl"/>
<line x1="0" y1="67.61" x2="292.97" y2="67.61" class="gl"/>
<line x1="0" y1="11.27" x2="292.97" y2="11.27" class="gl"/>
<use href="#base"/>
</g>
<rect x="0" y="0" width="292.97" height="247.90" class="fr"/>
<line x1="0.00" y1="247.90" x2="0.00" y2="243.60" class="tk"/>
<line x1="0.00" y1="0" x2="0.00" y2="4.3" class="tk"/>
<line x1="56.34" y1="247.90" x2="56.34" y2="243.60" class="tk"/>
<line x1="56.34" y1="0" x2="56.34" y2="4.3" class="tk"/>
<line x1="112.68" y1="247.90" x2="112.68" y2="243.60" class="tk"/>
<line x1="112.68" y1="0" x2="112.68" y2="4.3" class="tk"/>
<line x1="169.02" y1="247.90" x2="169.02" y2="243.60" class="tk"/>
<line x1="169.02" y1="0" x2="169.02" y2="4.3" class="tk"/>
<line x1="225.36" y1="247.90" x2="225.36" y2="243.60" class="tk"/>
<line x1="225.36" y1="0" x2="225.36" y2="4.3" class="tk"/>
<line x1="281.70" y1="247.90" x2="281.70" y2="243.60" class="tk"/>
<line x1="281.70" y1="0" x2="281.70" y2="4.3" class="tk"/>
<line x1="0" y1="236.63" x2="4.3" y2="236.63" class="tk"/>
<line x1="292.97" y1="236.63" x2="288.67" y2="236.63" class="tk"/>
<line x1="0" y1="180.29" x2="4.3" y2="180.29" class="tk"/>
<line x1="292.97" y1="180.29" x2="288.67" y2="180.29" class="tk"/>
<line x1="0" y1="123.95" x2="4.3" y2="123.95" class="tk"/>
<line x1="292.97" y1="123.95" x2="288.67" y2="123.95" class="tk"/>
<line x1="0" y1="67.61" x2="4.3" y2="67.61" class="tk"/>
<line x1="292.97" y1="67.61" x2="288.67" y2="67.61" class="tk"/>
<line x1="0" y1="11.27" x2="4.3" y2="11.27" class="tk"/>
<line x1="292.97" y1="11.27" x2="288.67" y2="11.27" class="tk"/>
<text x="0.00" y="259.80" class="tl" text-anchor="middle" textLength="38.77" lengthAdjust="spacingAndGlyphs">105°E</text>
<text x="56.34" y="259.80" class="tl" text-anchor="middle" textLength="38.77" lengthAdjust="spacingAndGlyphs">110°E</text>
<text x="112.68" y="259.80" class="tl" text-anchor="middle" textLength="38.77" lengthAdjust="spacingAndGlyphs">115°E</text>
<text x="169.02" y="259.80" class="tl" text-anchor="middle" textLength="38.77" lengthAdjust="spacingAndGlyphs">120°E</text>
<text x="225.36" y="259.80" class="tl" text-anchor="middle" textLength="38.77" lengthAdjust="spacingAndGlyphs">125°E</text>
<text x="281.70" y="259.80" class="tl" text-anchor="middle" textLength="38.77" lengthAdjust="spacingAndGlyphs">130°E</text>
<text x="-2.7" y="241.63" class="tl" text-anchor="end" textLength="32.14" lengthAdjust="spacingAndGlyphs">20°N</text>
<text x="-2.7" y="185.29" class="tl" text-anchor="end" textLength="32.14" lengthAdjust="spacingAndGlyphs">25°N</text>
<text x="-2.7" y="128.95" class="tl" text-anchor="end" textLength="32.14" lengthAdjust="spacingAndGlyphs">30°N</text>
<text x="-2.7" y="72.61" class="tl" text-anchor="end" textLength="32.14" lengthAdjust="spacingAndGlyphs">35°N</text>
<text x="-2.7" y="16.27" class="tl" text-anchor="end" textLength="32.14" lengthAdjust="spacingAndGlyphs">40°N</text>
<text x="5.0" y="16.6" class="tt" textLength="40.11" lengthAdjust="spacingAndGlyphs">(d) r(δ</text>
<text x="47.71" y="11.7" class="sp" textLength="9.4" lengthAdjust="spacingAndGlyphs">18</text>
<text x="58.61" y="16.6" class="tt" textLength="79.35" lengthAdjust="spacingAndGlyphs">O, Dynamic)</text>
</g>
<rect x="138.70" y="553.5" width="27.53" height="6.0" fill="#1a0fa8"/>
<rect x="165.93" y="553.5" width="27.53" height="6.0" fill="#2a10d8"/>
<rect x="193.16" y="553.5" width="27.53" height="6.0" fill="#2400ff"/>
<rect x="220.39" y="553.5" width="27.53" height="6.0" fill="#2000fb"/>
<rect x="247.62" y="553.5" width="27.53" height="6.0" fill="#2000f6"/>
<rect x="274.85" y="553.5" width="27.53" height="6.0" fill="#6b6bff"/>
<rect x="302.08" y="553.5" width="27.53" height="6.0" fill="#a3a3ff"/>
<rect x="329.31" y="553.5" width="27.53" height="6.0" fill="#dcdcff"/>
<rect x="356.54" y="553.5" width="27.53" height="6.0" fill="#ffdcdc"/>
<rect x="383.77" y="553.5" width="27.53" height="6.0" fill="#f2a0a8"/>
<rect x="411.00" y="553.5" width="27.53" height="6.0" fill="#f0404c"/>
<rect x="438.23" y="553.5" width="27.53" height="6.0" fill="#ee2030"/>
<rect x="465.46" y="553.5" width="27.53" height="6.0" fill="#f81c1c"/>
<rect x="492.69" y="553.5" width="27.53" height="6.0" fill="#dc1a1a"/>
<rect x="519.92" y="553.5" width="27.53" height="6.0" fill="#b21515"/>
<rect x="547.15" y="553.5" width="27.53" height="6.0" fill="#8b1010"/>
<polygon points="138.70,553.5 116.8,556.5 138.70,559.5" fill="#14149a"/>
<polygon points="574.38,553.5 595.98,556.5 574.38,559.5" fill="#7a0a0a"/>
<polygon points="138.70,553.5 574.38,553.5 595.98,556.5 574.38,559.5 138.70,559.5 116.8,556.5" fill="none" stroke="#000" stroke-width="1.1"/>
<line x1="138.70" y1="559.5" x2="138.70" y2="565.3" class="tk"/>
<text x="138.70" y="580.6" class="tl" text-anchor="middle" textLength="30.96" lengthAdjust="spacingAndGlyphs">−0.8</text>
<line x1="193.16" y1="559.5" x2="193.16" y2="565.3" class="tk"/>
<text x="193.16" y="580.6" class="tl" text-anchor="middle" textLength="30.96" lengthAdjust="spacingAndGlyphs">−0.6</text>
<line x1="247.62" y1="559.5" x2="247.62" y2="565.3" class="tk"/>
<text x="247.62" y="580.6" class="tl" text-anchor="middle" textLength="30.96" lengthAdjust="spacingAndGlyphs">−0.4</text>
<line x1="302.08" y1="559.5" x2="302.08" y2="565.3" class="tk"/>
<text x="302.08" y="580.6" class="tl" text-anchor="middle" textLength="30.96" lengthAdjust="spacingAndGlyphs">−0.2</text>
<line x1="356.54" y1="559.5" x2="356.54" y2="565.3" class="tk"/>
<text x="356.54" y="580.6" class="tl" text-anchor="middle" textLength="20.28" lengthAdjust="spacingAndGlyphs">0.0</text>
<line x1="411.00" y1="559.5" x2="411.00" y2="565.3" class="tk"/>
<text x="411.00" y="580.6" class="tl" text-anchor="middle" textLength="20.28" lengthAdjust="spacingAndGlyphs">0.2</text>
<line x1="465.46" y1="559.5" x2="465.46" y2="565.3" class="tk"/>
<text x="465.46" y="580.6" class="tl" text-anchor="middle" textLength="20.28" lengthAdjust="spacingAndGlyphs">0.4</text>
<line x1="519.92" y1="559.5" x2="519.92" y2="565.3" class="tk"/>
<text x="519.92" y="580.6" class="tl" text-anchor="middle" textLength="20.28" lengthAdjust="spacingAndGlyphs">0.6</text>
<line x1="574.38" y1="559.5" x2="574.38" y2="565.3" class="tk"/>
<text x="574.38" y="580.6" class="tl" text-anchor="middle" textLength="20.28" lengthAdjust="spacingAndGlyphs">0.8</text>
</svg></body></html>
